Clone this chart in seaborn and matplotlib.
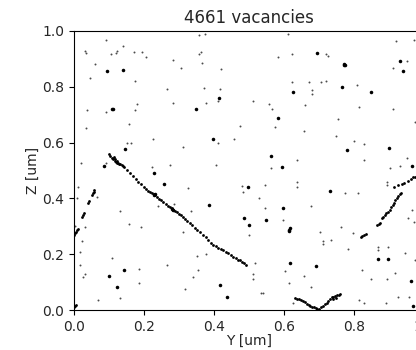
import matplotlib
matplotlib.use("Agg")
import matplotlib.pyplot as plt
import seaborn as sns
import pandas as pd

title = "4661 vacancies"
n_vacancies = 4661

# Isolated vacancies (Y, Z) in um
single = [
    (0.090, 0.967), (0.140, 0.946), (0.031, 0.929), (0.035, 0.920), (0.106, 0.918),
    (0.119, 0.920), (0.124, 0.927), (0.171, 0.925), (0.193, 0.925), (0.207, 0.908),
    (0.282, 0.897), (0.305, 0.866), (0.059, 0.882), (0.045, 0.832), (0.174, 0.822),
    (0.267, 0.791), (0.282, 0.742), (0.180, 0.737), (0.175, 0.718), (0.091, 0.710),
    (0.038, 0.717), (0.158, 0.666), (0.033, 0.653),
    (0.357, 0.985), (0.374, 0.989), (0.611, 0.989), (0.363, 0.924), (0.357, 0.916),
    (0.584, 0.908), (0.622, 0.919), (0.367, 0.887), (0.421, 0.864), (0.622, 0.818),
    (0.671, 0.816), (0.370, 0.796), (0.417, 0.793), (0.411, 0.749), (0.377, 0.742),
    (0.512, 0.748), (0.556, 0.739), (0.566, 0.720), (0.660, 0.734), (0.475, 0.658),
    (0.574, 0.655),
    (0.920, 0.964), (0.972, 0.968), (0.719, 0.916), (0.727, 0.910), (0.952, 0.891),
    (0.910, 0.866), (0.707, 0.816), (0.719, 0.821), (0.679, 0.787), (0.679, 0.773),
    (0.809, 0.808), (0.815, 0.727), (0.912, 0.722), (0.755, 0.686), (0.974, 0.674),
    (0.152, 0.597), (0.164, 0.600), (0.227, 0.612), (0.311, 0.583), (0.019, 0.528),
    (0.091, 0.528), (0.222, 0.511), (0.274, 0.520), (0.241, 0.373), (0.287, 0.379),
    (0.327, 0.438), (0.334, 0.356), (0.407, 0.520),
    (0.657, 0.642), (0.411, 0.599), (0.456, 0.612), (0.636, 0.539), (0.564, 0.509),
    (0.638, 0.458), (0.636, 0.441), (0.480, 0.443), (0.546, 0.447), (0.484, 0.422),
    (0.528, 0.401), (0.546, 0.366), (0.598, 0.323),
    (0.749, 0.624), (0.799, 0.607), (0.828, 0.596), (0.828, 0.539), (0.950, 0.544),
    (0.902, 0.508), (0.930, 0.517), (0.775, 0.419), (0.811, 0.419), (0.677, 0.373),
    (0.893, 0.458), (0.893, 0.448),
    (0.501, 0.268), (0.763, 0.299), (0.704, 0.281), (0.733, 0.251), (0.712, 0.247),
    (0.712, 0.235), (0.783, 0.219), (0.796, 0.277), (0.517, 0.167), (0.511, 0.129),
    (0.511, 0.111), (0.603, 0.139), (0.658, 0.122), (0.614, 0.097), (0.677, 0.081),
    (0.533, 0.062), (0.541, 0.060), (0.822, 0.143), (0.849, 0.112), (0.814, 0.036),
    (0.829, 0.024), (0.917, 0.131), (0.895, 0.112), (0.891, 0.024), (0.926, 0.048),
    (0.958, 0.048), (0.868, 0.225), (0.868, 0.215), (0.898, 0.227), (0.946, 0.205),
    (0.975, 0.179), (0.966, 0.358), (0.955, 0.331), (0.972, 0.317), (0.627, 0.024),
    (0.004, 0.302), (0.031, 0.299), (0.023, 0.247), (0.018, 0.209), (0.018, 0.160),
    (0.031, 0.130), (0.025, 0.117), (0.069, 0.036), (0.109, 0.188), (0.132, 0.043),
    (0.185, 0.146), (0.186, 0.095), (0.158, 0.308), (0.191, 0.299), (0.311, 0.278),
    (0.267, 0.160), (0.316, 0.075), (0.131, 0.356), (0.065, 0.406), (0.008, 0.400),
    (0.012, 0.442), (0.350, 0.195), (0.353, 0.143), (0.339, 0.119), (0.376, 0.199),
]

# Small vacancy clusters (several overlapping sites)
clustered = [
    (0.095, 0.856), (0.141, 0.859), (0.109, 0.719), (0.627, 0.781), (0.415, 0.759),
    (0.348, 0.722), (0.584, 0.688), (0.695, 0.920), (0.771, 0.879), (0.931, 0.891),
    (0.940, 0.856), (0.767, 0.800), (0.849, 0.781), (0.146, 0.578), (0.086, 0.515),
    (0.229, 0.491), (0.258, 0.452), (0.387, 0.376), (0.397, 0.612), (0.564, 0.551),
    (0.594, 0.511), (0.497, 0.441), (0.596, 0.366), (0.487, 0.330), (0.549, 0.324),
    (0.500, 0.305), (0.781, 0.572), (0.899, 0.582), (0.967, 0.517), (0.731, 0.425),
    (0.618, 0.167), (0.691, 0.158), (0.964, 0.105), (0.969, 0.015), (0.868, 0.184),
    (0.896, 0.184), (0.101, 0.122), (0.144, 0.145), (0.123, 0.081), (0.417, 0.088),
    (0.438, 0.047), (0.614, 0.283), (0.615, 0.288), (0.616, 0.293), (0.771, 0.882),
    (0.774, 0.877), (0.112, 0.720), (0.228, 0.412), (0.232, 0.415), (0.280, 0.362),
    (0.284, 0.359),
]

# Vacancies decorating dislocation lines
dislocations = [
    # long diagonal line
    (0.100, 0.560), (0.104, 0.553), (0.108, 0.545), (0.112, 0.540), (0.116, 0.535),
    (0.120, 0.531), (0.124, 0.527), (0.128, 0.524), (0.132, 0.522), (0.136, 0.520),
    (0.113, 0.548), (0.118, 0.540), (0.122, 0.533), (0.127, 0.528), (0.140, 0.517),
    (0.144, 0.512), (0.152, 0.501), (0.160, 0.490), (0.168, 0.480), (0.176, 0.470),
    (0.184, 0.460), (0.192, 0.450), (0.200, 0.440), (0.206, 0.434), (0.212, 0.428),
    (0.218, 0.423), (0.224, 0.418), (0.229, 0.414), (0.232, 0.411), (0.236, 0.405),
    (0.242, 0.398), (0.248, 0.394), (0.255, 0.388), (0.262, 0.380), (0.268, 0.373),
    (0.274, 0.368), (0.279, 0.364), (0.283, 0.360), (0.288, 0.355), (0.294, 0.350),
    (0.300, 0.344), (0.306, 0.339), (0.312, 0.333), (0.318, 0.326), (0.324, 0.319),
    (0.331, 0.311), (0.338, 0.303), (0.345, 0.295), (0.352, 0.287), (0.360, 0.278),
    (0.369, 0.269), (0.376, 0.260), (0.384, 0.250), (0.391, 0.241), (0.398, 0.233),
    (0.405, 0.228), (0.412, 0.223), (0.420, 0.219), (0.427, 0.215), (0.434, 0.209),
    (0.441, 0.203), (0.448, 0.197), (0.455, 0.191), (0.462, 0.186), (0.468, 0.181),
    (0.474, 0.178), (0.480, 0.172), (0.486, 0.167), (0.492, 0.162),
    # left arc
    (0.000, 0.268), (0.003, 0.276), (0.006, 0.281), (0.009, 0.286), (0.012, 0.292),
    (0.024, 0.333), (0.027, 0.340), (0.029, 0.346), (0.040, 0.385), (0.043, 0.390),
    (0.050, 0.412), (0.053, 0.418), (0.056, 0.424), (0.058, 0.430),
    # corner
    (0.001, 0.010), (0.004, 0.013), (0.007, 0.017),
    # bottom V
    (0.631, 0.042), (0.637, 0.040), (0.643, 0.038), (0.649, 0.036), (0.655, 0.033),
    (0.660, 0.027), (0.665, 0.022), (0.670, 0.018), (0.675, 0.015), (0.680, 0.012),
    (0.685, 0.009), (0.690, 0.006), (0.695, 0.004), (0.699, 0.003), (0.705, 0.011),
    (0.711, 0.016), (0.717, 0.021), (0.722, 0.026), (0.727, 0.032), (0.731, 0.040),
    (0.736, 0.045), (0.741, 0.048), (0.746, 0.050), (0.751, 0.052), (0.756, 0.054),
    (0.760, 0.056), (0.740, 0.040), (0.748, 0.044),
    # right rising line
    (0.820, 0.262), (0.824, 0.265), (0.828, 0.268), (0.834, 0.274), (0.866, 0.304),
    (0.870, 0.307), (0.874, 0.311), (0.880, 0.328), (0.884, 0.334), (0.888, 0.340),
    (0.892, 0.346), (0.898, 0.352), (0.903, 0.360), (0.906, 0.368), (0.910, 0.376),
    (0.914, 0.385), (0.918, 0.393), (0.922, 0.401), (0.926, 0.409), (0.930, 0.416),
    (0.934, 0.420), (0.915, 0.441), (0.925, 0.447), (0.936, 0.452), (0.944, 0.456),
    (0.955, 0.463), (0.964, 0.470), (0.969, 0.476), (0.975, 0.478),
]

def frame(points):
    return pd.DataFrame(points, columns=["Y", "Z"])

sns.set_style("ticks")
plt.rcParams["font.family"] = ["DejaVu Sans"]

fig = plt.figure(figsize=(4.16, 3.5), dpi=100)
ax = fig.add_axes([74 / 416, 40 / 350, 350 / 416, 279 / 350])

sns.scatterplot(data=frame(single), x="Y", y="Z", ax=ax, s=2.0,
                color="black", linewidth=0, alpha=0.7)
sns.scatterplot(data=frame(dislocations), x="Y", y="Z", ax=ax, s=4.0,
                color="black", linewidth=0)
sns.scatterplot(data=frame(clustered), x="Y", y="Z", ax=ax, s=6.5,
                color="black", linewidth=0)

ax.set_xlim(0, 1)
ax.set_ylim(0, 1)
ax.set_xticks([0.0, 0.2, 0.4, 0.6, 0.8, 1.0])
ax.set_yticks([0.0, 0.2, 0.4, 0.6, 0.8, 1.0])
ax.set_xlabel("Y [um]", fontsize=10, labelpad=0)
ax.set_ylabel("Z [um]", fontsize=10, labelpad=2)
ax.set_title(f"{n_vacancies} vacancies", fontsize=12, pad=6)
ax.tick_params(labelsize=10, length=3.5, width=0.8, color="black")
for sp in ax.spines.values():
    sp.set_visible(True)
    sp.set_color("black")
    sp.set_linewidth(0.8)

fig.savefig("out.png", dpi=100)
